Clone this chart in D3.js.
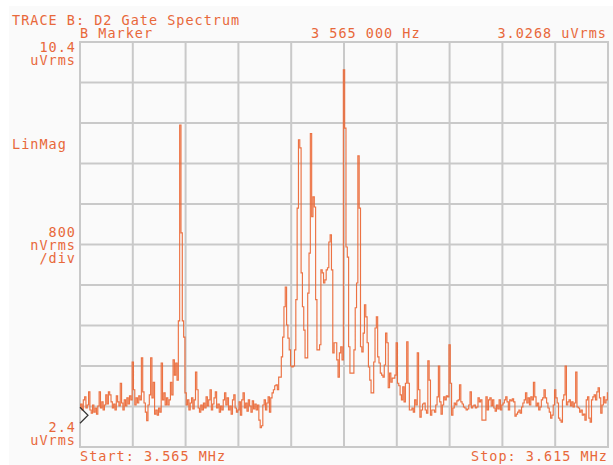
<!DOCTYPE html>
<html>
<head>
<meta charset="utf-8">
<script src="https://cdn.jsdelivr.net/npm/d3@7"></script>
<style>
  html, body { margin: 0; padding: 0; background: #ffffff; }
  svg { display: block; }
  text {
    font-family: "DejaVu Sans Mono", "Liberation Mono", monospace;
    font-size: 13.5px;
    fill: #e8683a;
    letter-spacing: 1px;
  }
</style>
</head>
<body>
<svg id="chart" width="613" height="465"></svg>
<script>
// Sweep settings (MHz) and vertical scale (uVrms)
const startMHz = 3.565;
const stopMHz = 3.615;
const binCount = 401;
const refTop = 10.4;
const refBottom = 2.4;
const perDiv = 0.8;
const gridDivsX = 10;
const gridDivsY = 10;

// Marker readout
const markerHz = 3565000;
const markerValue = 3.0268;

// Annotation texts
const titleText = "TRACE B: D2 Gate Spectrum";
const markerLabel = "B Marker";
const markerFreqText = "3 565 000 Hz";
const markerValueText = "3.0268 uVrms";
const topScaleLabels = ["10.4", "uVrms"];
const modeLabel = "LinMag";
const divLabels = ["800", "nVrms", "/div"];
const bottomScaleLabels = ["2.4", "uVrms"];
const startLabel = "Start: 3.565 MHz";
const stopLabel = "Stop: 3.615 MHz";

// Magnitude per frequency bin (uVrms), 401 bins across the span
const magnitude = [
  3.17,3.25,3.13,3.33,3.39,3.17,3.23,3.49,3.13,3.07,
  3.23,3.09,3.17,3.05,3.21,3.49,3.17,3.29,3.13,3.23,
  3.43,3.25,3.49,3.43,3.29,3.17,3.25,3.13,3.41,3.29,
  3.21,3.66,3.27,3.13,3.33,3.21,3.37,3.25,3.41,3.33,
  4.08,3.53,3.23,3.37,3.27,3.41,3.33,4.16,3.49,3.27,
  3.09,2.92,3.23,3.43,4.16,3.37,3.68,3.05,3.13,3.03,
  3.17,3.09,4.06,3.33,3.47,3.23,3.37,3.23,3.33,3.68,
  3.43,4.12,3.82,4.06,3.72,4.89,8.76,6.63,4.89,4.57,
  3.47,3.23,3.33,3.13,3.27,3.37,3.15,3.33,3.88,3.53,
  3.17,3.09,3.23,3.13,3.27,3.17,3.39,3.21,3.33,3.53,
  3.13,3.25,3.37,3.49,3.17,3.25,3.09,3.21,3.13,3.33,
  3.47,3.23,3.37,3.13,3.21,3.05,3.33,3.43,3.17,3.09,
  3.13,3.29,3.03,3.33,3.47,3.17,3.27,3.11,3.33,3.21,
  3.09,3.31,3.15,3.25,3.13,3.23,2.93,2.78,2.82,3.23,
  3.33,3.13,3.27,3.39,3.09,3.37,3.47,3.53,3.61,3.63,
  3.53,3.78,3.78,4.18,4.57,5.17,5.56,4.81,4.55,4.32,
  4.00,3.98,4.00,4.32,5.31,7.12,8.47,8.31,5.84,5.17,
  4.71,4.16,4.16,5.44,6.23,8.59,6.95,7.34,7.14,5.31,
  4.32,4.32,4.42,5.90,5.84,5.64,5.70,5.90,5.94,6.45,
  6.59,5.90,4.26,4.46,4.46,4.12,3.78,4.26,4.38,4.12,
  9.85,8.70,6.35,6.15,4.38,3.86,3.86,3.86,4.32,5.15,
  5.64,8.15,7.12,4.38,4.28,4.65,5.21,4.97,4.46,3.98,
  3.72,3.47,3.47,4.08,4.75,4.97,4.18,4.06,3.86,3.82,
  3.78,4.02,4.65,4.46,3.57,3.86,3.68,3.76,3.76,3.82,
  4.46,3.66,3.61,3.43,3.33,3.59,3.29,3.66,4.48,3.66,
  3.13,3.13,3.17,3.09,3.33,3.23,4.26,3.53,2.99,3.13,
  3.25,3.27,3.13,3.07,4.10,3.72,3.03,3.13,3.13,3.09,
  3.23,3.39,4.00,3.29,3.05,3.23,3.39,3.33,3.41,3.39,
  4.42,3.66,3.03,3.17,3.27,3.23,3.31,3.33,3.63,3.29,
  3.25,3.19,3.17,3.13,3.15,3.23,3.49,3.17,3.21,3.23,
  3.17,3.19,3.37,3.29,3.33,2.93,2.93,2.93,3.39,3.13,
  3.33,3.37,3.21,3.33,3.17,3.11,3.23,3.15,3.33,3.13,
  3.23,3.27,3.33,3.39,3.29,3.13,3.33,3.31,3.35,3.29,
  3.01,3.05,3.09,3.13,3.07,3.19,3.27,3.33,3.47,3.27,
  3.37,3.23,3.39,3.33,3.68,3.39,3.21,3.27,3.13,3.19,
  3.33,3.37,3.53,3.37,3.27,3.17,3.09,2.97,3.03,3.23,
  3.53,3.37,3.27,2.97,2.93,2.89,3.33,3.43,4.00,3.23,
  3.29,3.33,3.21,3.29,3.19,3.27,3.88,3.19,3.17,3.09,
  3.13,3.03,3.05,2.93,3.33,3.39,2.97,2.89,3.33,3.39,
  3.43,3.33,3.49,3.57,3.37,3.07,3.23,3.39,3.27,3.33,
  3.47
];

// Layout
const plot = { left: 80, right: 608, top: 42, bottom: 447 };
const traceColor = "#ea6633";
const gridColor = "#c9c9c9";

const svg = d3.select("#chart");

// Screen background
svg.append("rect").attr("width", 613).attr("height", 465).attr("fill", "#ffffff");
svg.append("rect").attr("x", 9).attr("y", 6).attr("width", 604).attr("height", 459).attr("fill", "#fafafa");

const x = d3.scaleLinear().domain([startMHz, stopMHz]).range([plot.left, plot.right]);
const y = d3.scaleLinear().domain([refBottom, refTop]).range([plot.bottom, plot.top]);

// Frequency of each bin
const binStep = (stopMHz - startMHz) / (binCount - 1);
const freqs = d3.range(binCount).map(i => startMHz + i * binStep);

// Graticule
const vDivs = d3.range(gridDivsX + 1).map(k => startMHz + k * (stopMHz - startMHz) / gridDivsX);
const hDivs = d3.range(gridDivsY + 1).map(k => refBottom + k * perDiv);

const grid = svg.append("g").attr("stroke", gridColor).attr("stroke-width", 2);
grid.selectAll("line.v").data(vDivs).join("line")
  .attr("class", "v")
  .attr("x1", d => x(d)).attr("x2", d => x(d))
  .attr("y1", y(refTop) - 1).attr("y2", y(refBottom) + 1);
grid.selectAll("line.h").data(hDivs).join("line")
  .attr("class", "h")
  .attr("x1", x(startMHz) - 1).attr("x2", x(stopMHz) + 1)
  .attr("y1", d => y(d)).attr("y2", d => y(d));

// Spectrum trace
const line = d3.line()
  .x((d, i) => x(freqs[i]))
  .y(d => y(d))
  .curve(d3.curveStep);

svg.append("path")
  .datum(magnitude)
  .attr("d", line)
  .attr("fill", "none")
  .attr("stroke", traceColor)
  .attr("stroke-width", 1.15)
  .attr("stroke-opacity", 0.92)
  .attr("stroke-linejoin", "miter");

// Marker chevron at the marker frequency/value
const mx = x(markerHz / 1e6);
const my = y(markerValue);
svg.append("path")
  .attr("d", `M${mx},${my - 8} L${mx + 8},${my} L${mx},${my + 8}`)
  .attr("fill", "none")
  .attr("stroke", "#333333")
  .attr("stroke-width", 1.2);

// Header texts
svg.append("text").attr("x", 12).attr("y", 25).text(titleText);
svg.append("text").attr("x", 80).attr("y", 38).text(markerLabel);
svg.append("text").attr("x", 311).attr("y", 38).text(markerFreqText);
svg.append("text").attr("x", 607).attr("y", 38).attr("text-anchor", "end").text(markerValueText);

// Left scale texts
const leftX = 76;
svg.selectAll("text.top").data(topScaleLabels).join("text")
  .attr("class", "top").attr("x", leftX).attr("y", (d, i) => 52 + i * 13)
  .attr("text-anchor", "end").text(d => d);
svg.append("text").attr("x", 12).attr("y", 149).text(modeLabel);
svg.selectAll("text.div").data(divLabels).join("text")
  .attr("class", "div").attr("x", leftX).attr("y", (d, i) => 237 + i * 13)
  .attr("text-anchor", "end").text(d => d);
svg.selectAll("text.bot").data(bottomScaleLabels).join("text")
  .attr("class", "bot").attr("x", leftX).attr("y", (d, i) => 432 + i * 13)
  .attr("text-anchor", "end").text(d => d);

// Sweep limits
svg.append("text").attr("x", 80).attr("y", 461).text(startLabel);
svg.append("text").attr("x", 608).attr("y", 461).attr("text-anchor", "end").text(stopLabel);
</script>
</body>
</html>
